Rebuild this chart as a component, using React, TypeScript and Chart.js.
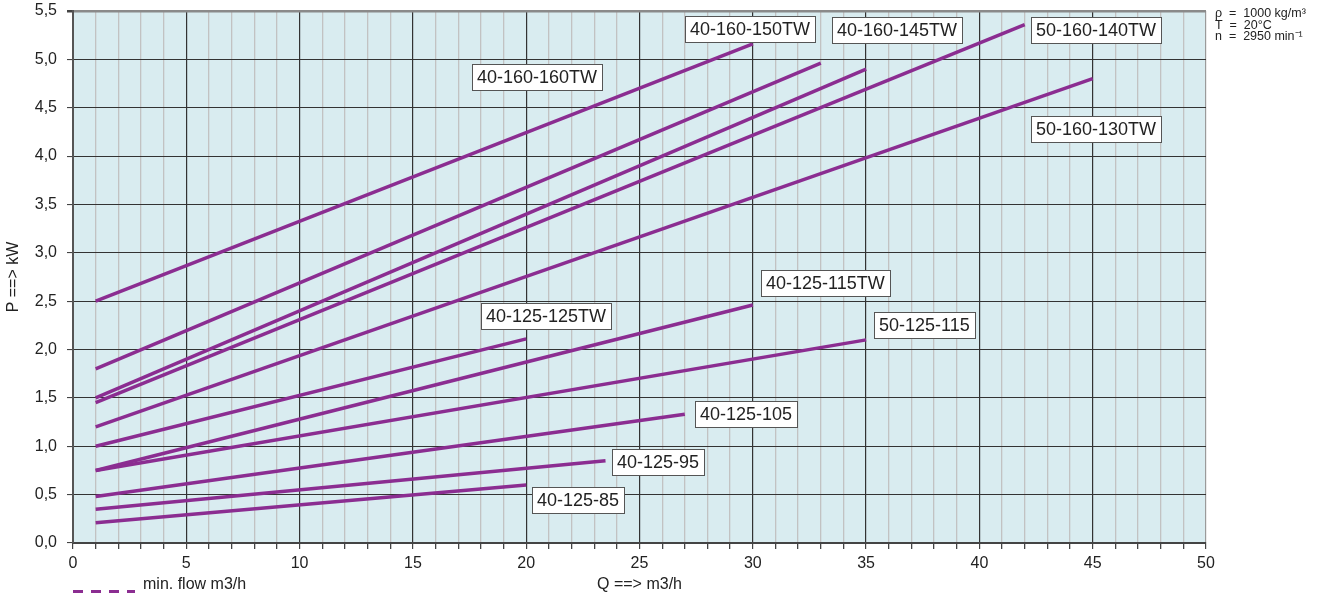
import React, { useEffect, useRef } from 'react';
import { Chart, registerables } from 'chart.js';

Chart.register(...registerables);

// ---- data ----
const seriesNames = [
  '40-160-160TW', '40-160-150TW', '40-160-145TW', '50-160-140TW', '50-160-130TW',
  '40-125-125TW', '40-125-115TW', '50-125-115', '40-125-105', '40-125-95', '40-125-85',
];
const flowStart = [1, 1, 1, 1, 1, 1, 1, 1, 1, 1, 1];
const flowEnd = [30, 33, 35, 42, 45, 20, 30, 35, 27, 23.5, 20];
const powerStart = [2.5, 1.8, 1.5, 1.45, 1.2, 1.0, 0.75, 0.75, 0.48, 0.35, 0.21];
const powerEnd = [5.16, 4.96, 4.9, 5.36, 4.8, 2.11, 2.46, 2.1, 1.33, 0.85, 0.6];

// curve tags (anchor: left edge of box in Q, vertical centre in P)
const tagTexts = [
  '40-160-160TW', '40-160-150TW', '40-160-145TW', '50-160-140TW', '50-160-130TW',
  '40-125-125TW', '40-125-115TW', '50-125-115', '40-125-105', '40-125-95', '40-125-85',
];
const tagQ = [17.6, 27.0, 33.48, 42.28, 42.28, 17.99, 30.36, 35.36, 27.45, 23.8, 20.24];
const tagP = [4.82, 5.31, 5.30, 5.30, 4.28, 2.35, 2.69, 2.25, 1.33, 0.84, 0.44];

const conditionLines = ['ρ  =  1000 kg/m³', 'T  =  20°C', 'n  =  2950 min⁻¹'];
const legendText = 'min. flow m3/h';
const xTitle = 'Q ==> m3/h';
const yTitle = 'P ==> kW';

const xMin = 0, xMax = 50, xStep = 1, xLabelEvery = 5;
const yMin = 0, yMax = 5.5, yStep = 0.5;

const FONT = '"Liberation Sans", Arial, Helvetica, sans-serif';
const PURPLE = '#8b2d91';
const BG = '#d9ecf0';

const overlayPlugin = {
  id: 'overlay',
  beforeDraw(chart: any) {
    const { ctx, chartArea } = chart;
    ctx.save();
    ctx.fillStyle = BG;
    ctx.fillRect(chartArea.left, chartArea.top, chartArea.right - chartArea.left, chartArea.bottom - chartArea.top);
    ctx.restore();
  },
  afterDraw(chart: any) {
    const { ctx, chartArea } = chart;
    const xs = chart.scales.x;
    const ys = chart.scales.y;
    ctx.save();
    // curve tags
    ctx.font = `18px ${FONT}`;
    ctx.textBaseline = 'middle';
    ctx.textAlign = 'left';
    tagTexts.forEach((t, i) => {
      const x = Math.round(xs.getPixelForValue(tagQ[i]));
      const yc = ys.getPixelForValue(tagP[i]);
      const w = Math.round(ctx.measureText(t).width + 10);
      const h = 26;
      const top = Math.round(yc - h / 2);
      ctx.fillStyle = '#ffffff';
      ctx.fillRect(x, top, w, h);
      ctx.strokeStyle = '#555555';
      ctx.lineWidth = 1;
      ctx.strokeRect(x + 0.5, top + 0.5, w, h);
      ctx.fillStyle = '#222222';
      ctx.fillText(t, x + 5, top + h / 2 + 1);
    });
    // conditions (top right)
    ctx.font = `12.5px ${FONT}`;
    ctx.textBaseline = 'alphabetic';
    ctx.fillStyle = '#222222';
    conditionLines.forEach((t, i) => {
      ctx.fillText(t, chartArea.right + 9, 17 + i * 11.5);
    });
    // legend (bottom left)
    const ly = chart.height - 7.5;
    ctx.strokeStyle = PURPLE;
    ctx.lineWidth = 3;
    ctx.setLineDash([10, 8]);
    ctx.beginPath();
    ctx.moveTo(chartArea.left, ly);
    ctx.lineTo(chartArea.left + 62, ly);
    ctx.stroke();
    ctx.setLineDash([]);
    ctx.font = `16px ${FONT}`;
    ctx.fillStyle = '#222222';
    ctx.fillText(legendText, chartArea.left + 70, chart.height - 10);
    ctx.restore();
  },
};

export default function App() {
  const ref = useRef<HTMLCanvasElement | null>(null);
  useEffect(() => {
    document.body.style.margin = '0';
    const canvas = ref.current;
    if (!canvas) return;
    const datasets = seriesNames.map((name, i) => ({
      label: name,
      data: [
        { x: flowStart[i], y: powerStart[i] },
        { x: flowEnd[i], y: powerEnd[i] },
      ],
      borderColor: PURPLE,
      backgroundColor: PURPLE,
      borderWidth: 3.5,
      pointRadius: 0,
      fill: false,
      tension: 0,
    }));
    const chart = new Chart(canvas, {
      type: 'line',
      data: { datasets },
      plugins: [overlayPlugin],
      options: {
        responsive: false,
        animation: false,
        events: [],
        layout: { padding: { left: 0, top: 11, right: 119, bottom: 0 } },
        plugins: {
          legend: { display: false },
          tooltip: { enabled: false },
        },
        scales: {
          x: {
            type: 'linear',
            min: xMin,
            max: xMax,
            afterFit: (s: any) => { s.height = 56; s.paddingLeft = 0; s.paddingRight = 0; },
            ticks: {
              stepSize: xStep,
              autoSkip: false,
              maxRotation: 0,
              minRotation: 0,
              padding: 5,
              color: '#222',
              font: { family: FONT, size: 16 },
              callback: (v: any) => (Number(v) % xLabelEvery === 0 ? String(v) : ''),
            },
            grid: {
              color: (c: any) => {
                const v = c.tick ? c.tick.value : 0;
                if (v === xMax) return '#9a9a9a';
                return v % xLabelEvery === 0 ? '#333333' : '#c2c2c2';
              },
              lineWidth: (c: any) => {
                const v = c.tick ? c.tick.value : 0;
                return v % xLabelEvery === 0 ? 1.2 : 1.3;
              },
              tickColor: '#444',
              tickLength: 6,
            },
            border: { color: '#444', width: 2 },
            title: {
              display: true,
              text: xTitle,
              color: '#222',
              font: { family: FONT, size: 16 },
              padding: { top: 0, bottom: 5 },
            },
          },
          y: {
            type: 'linear',
            min: yMin,
            max: yMax,
            afterFit: (s: any) => { s.width = 73; s.paddingTop = 0; s.paddingBottom = 0; },
            ticks: {
              stepSize: yStep,
              padding: 10,
              color: '#222',
              font: { family: FONT, size: 16 },
              callback: (v: any) => Number(v).toFixed(1).replace('.', ','),
            },
            grid: {
              color: (c: any) => (c.tick && c.tick.value === yMax ? '#8a8a8a' : '#333333'),
              lineWidth: (c: any) => (c.tick && c.tick.value === yMax ? 2.5 : 1.1),
              tickColor: '#444',
              tickLength: 6,
            },
            border: { color: '#555', width: 2 },
            title: {
              display: true,
              text: yTitle,
              color: '#222',
              font: { family: FONT, size: 16 },
              padding: { top: 4, bottom: 0 },
            },
          },
        },
      },
    } as any);
    return () => chart.destroy();
  }, []);
  return (
    <div style={{ position: 'absolute', left: 0, top: 0, width: 1325, height: 599 }}>
      <canvas ref={ref} width={1325} height={599} style={{ width: 1325, height: 599 }} />
    </div>
  );
}
